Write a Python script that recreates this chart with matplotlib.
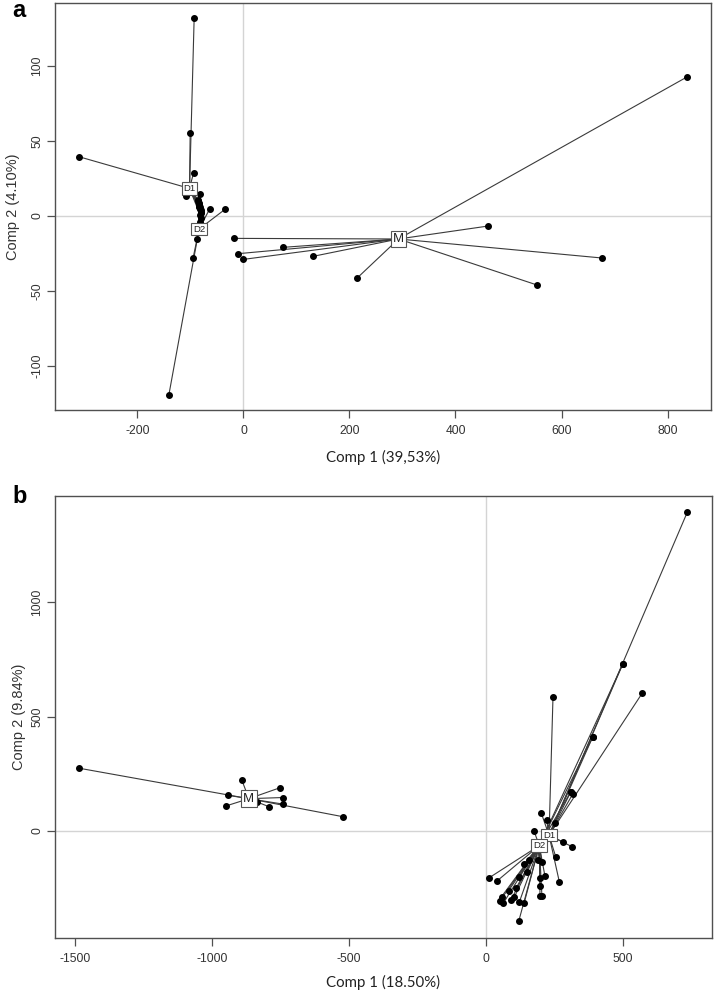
import matplotlib
matplotlib.use("Agg")
import matplotlib.pyplot as plt

plt.rcParams['axes.unicode_minus'] = False

# ---------------- Panel a data ----------------
a_D1_x = [-93, -100.5, -94, -310, -108, -81.7, -86, -84, -83, -82, -81, -82, -83]
a_D1_y = [131.8, 55.5, 29, 39.5, 13.5, 14.7, 11, 9, 7, 5, 3, 1, 6]
a_D2_x = [-63.5, -35, -88, -95, -140.6, -85, -83, -82, -81, -80, -81, -82, -83]
a_D2_y = [4.9, 4.4, -15.5, -28, -119, 10, 8, 6, 4, 2, -1, -4, -6]
a_M_x = [836.7, 461, 677, 554, 214, 131, 74, 0, -10, -17]
a_M_y = [92.7, -6.7, -28, -46, -41.5, -26.9, -20.9, -28.9, -25.1, -14.9]
a_cent_names = ["D1", "D2", "M"]
a_cent_x = [-101.7, -83.6, 292.5]
a_cent_y = [18.4, -8.7, -15.3]
a_xticks = [-200, 0, 200, 400, 600, 800]
a_yticks = [-100, -50, 0, 50, 100]
a_xlabel = "Comp 1 (39,53%)"
a_ylabel = "Comp 2 (4.10%)"

# ---------------- Panel b data ----------------
b_D1_x = [735, 499, 570, 390, 310, 316, 244.5, 202, 221.5, 252, 282, 314, 255, 267.5]
b_D1_y = [1394, 729, 602, 412, 172, 160, 587, 77, 48, 36, -49, -69, -115, -222]
b_D2_x = [10, 39, 82.5, 57, 51, 63, 103, 121, 139, 120, 121, 139, 157, 189, 203,
          197, 215, 197, 204, 198, 175, 499, 390, 310, 92, 110, 150]
b_D2_y = [-206, -220, -261, -287, -305, -316, -290, -313, -316, -392, -200, -144,
          -127, -127, -134, -207, -197, -284, -284, -243, 0, 729, 412, 172,
          -300, -250, -180]
b_M_x = [-1485, -522, -892, -944, -950, -752, -742, -740, -793, -835]
b_M_y = [274, 62, 223, 156, 109, 189, 146, 117, 106, 127]
b_cent_names = ["D1", "D2", "M"]
b_cent_x = [230, 194.5, -866]
b_cent_y = [-19, -64, 141]
b_xticks = [-1500, -1000, -500, 0, 500]
b_yticks = [0, 500, 1000]
b_xlabel = "Comp 1 (18.50%)"
b_ylabel = "Comp 2 (9.84%)"

W, H = 714, 992
fig = plt.figure(figsize=(W / 100, H / 100), dpi=100)

LINE_C = '#3a3a3a'
FRAME_C = '#505050'
GRID_C = '#d4d4d4'


def panel(rect, groups, cnames, cx, cy, xlim, ylim, xticks, yticks,
          xlabel, ylabel, xlab_y, ylab_x, label_sizes):
    ax = fig.add_axes(rect)
    ax.set_xlim(*xlim)
    ax.set_ylim(*ylim)
    ax.axhline(0, color=GRID_C, lw=1.0, zorder=0)
    ax.axvline(0, color=GRID_C, lw=1.0, zorder=0)
    for (gx, gy), ccx, ccy in zip(groups, cx, cy):
        for px, py in zip(gx, gy):
            ax.plot([ccx, px], [ccy, py], color=LINE_C, lw=0.8, zorder=2)
        ax.plot(gx, gy, 'o', color='black', ms=4.0, zorder=3)
    for name, ccx, ccy, fs in zip(cnames, cx, cy, label_sizes):
        ax.text(ccx, ccy, name, ha='center', va='center', fontsize=fs,
                family='Liberation Sans', color='#222222', zorder=5,
                bbox=dict(boxstyle='square,pad=0.18', fc='white',
                          ec='#555555', lw=0.8))
    for s in ax.spines.values():
        s.set_color(FRAME_C)
        s.set_linewidth(1.0)
    ax.set_xticks(xticks)
    ax.set_yticks(yticks)
    ax.set_xticklabels([str(t) for t in xticks])
    ax.set_yticklabels([str(t) for t in yticks], rotation=90, va='center')
    ax.tick_params(direction='out', length=6, width=0.9, color=FRAME_C,
                   labelcolor='#333333', labelsize=8.7, pad=5)
    ax.tick_params(axis='y', pad=2.5)
    for lab in ax.get_xticklabels() + ax.get_yticklabels():
        lab.set_family('Liberation Sans')
    ax.set_xlabel(xlabel, family='Lato', fontsize=10.8, color='#222222')
    ax.set_ylabel(ylabel, family='Liberation Sans', fontsize=10.5,
                  color='#333333')
    ax.xaxis.set_label_coords(0.5, xlab_y)
    ax.yaxis.set_label_coords(ylab_x, 0.5)
    return ax


# panel a: axes box px: left 55, right 711, top 3.3, bottom 410
ra = [55 / W, 1 - 410 / H, (711 - 55) / W, (410 - 3.3) / H]
panel(ra, [(a_D1_x, a_D1_y), (a_D2_x, a_D2_y), (a_M_x, a_M_y)],
      a_cent_names, a_cent_x, a_cent_y, (-355.5, 882), (-129.3, 141.8),
      a_xticks, a_yticks, a_xlabel, a_ylabel, -0.098, -0.053, [6.8, 6.8, 9.5])

# panel b: axes box px: left 55, right 711.7, top 495.7, bottom 937.7
rb = [55 / W, 1 - 937.7 / H, (711.7 - 55) / W, (937.7 - 495.7) / H]
panel(rb, [(b_D1_x, b_D1_y), (b_D2_x, b_D2_y), (b_M_x, b_M_y)],
      b_cent_names, b_cent_x, b_cent_y, (-1574, 824), (-467, 1466),
      b_xticks, b_yticks, b_xlabel, b_ylabel, -0.085, -0.044, [6.8, 6.8, 9.5])

fig.text(12 / W, 1 - 17 / H, 'a', fontsize=17, fontweight='bold',
         family='Liberation Sans', ha='left', va='baseline')
fig.text(12 / W, 1 - 503 / H, 'b', fontsize=17, fontweight='bold',
         family='Liberation Sans', ha='left', va='baseline')

fig.savefig('out.png', dpi=100)
